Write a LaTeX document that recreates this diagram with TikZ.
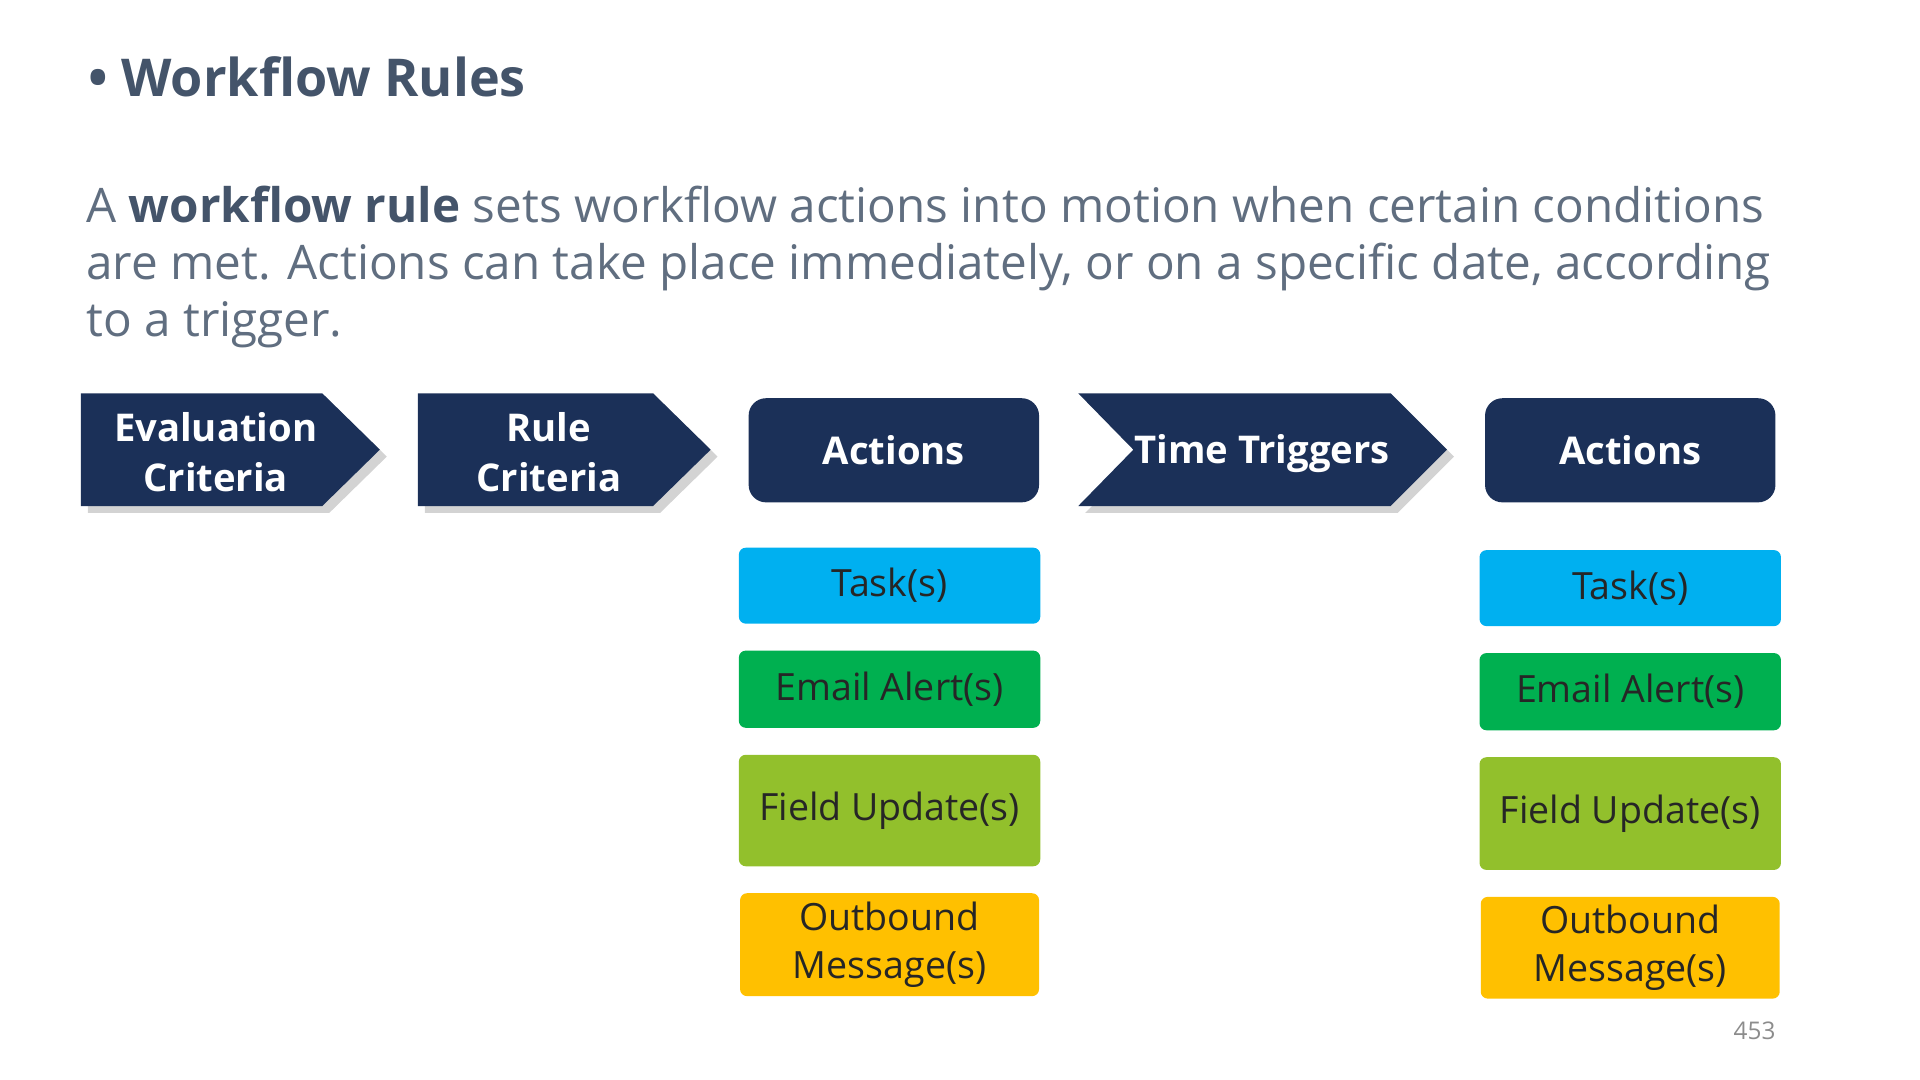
\documentclass[tikz,border=0pt]{standalone}
\usepackage{fontspec}
\setmainfont{Open Sans}
\usetikzlibrary{shadows}
\definecolor{navy}{HTML}{1B3058}
\definecolor{slate}{HTML}{44546A}
\definecolor{taskblue}{HTML}{00B0F0}
\definecolor{mailgreen}{HTML}{00B050}
\definecolor{fieldgreen}{HTML}{92C02C}
\definecolor{outorange}{HTML}{FFC000}
\tikzset{
  chev/.style={fill=navy, drop shadow={shadow xshift=2pt, shadow yshift=-2pt, opacity=0.35}},
  chevtext/.style={text=white, font=\fontsize{11}{14.2}\selectfont\bfseries, align=center},
  head/.style={fill=navy, rounded corners=5pt, text=white, font=\fontsize{11}{14}\selectfont\bfseries,
    minimum width=237*0.012387cm, minimum height=85*0.012387cm, inner sep=0pt},
  item/.style={rounded corners=2pt, text=black!85, font=\fontsize{10.8}{14}\selectfont, align=center,
    minimum width=246*0.012387cm, inner sep=0pt},
}
\begin{document}
\begin{tikzpicture}[x=0.012387cm, y=-0.012387cm]
  \useasboundingbox (0,0) rectangle (1567,881);

  % Title and text
  \node[anchor=west, text=slate, font=\fontsize{15}{18}\selectfont\bfseries] (title) at (62,63) {\textbullet\ Workflow Rules};
  \node[anchor=north west, text=slate!85, align=left, inner sep=0pt,
        font=\fontsize{13.7}{16.4}\selectfont] (intro) at (70,151)
    {A \textbf{\color{slate}workflow rule} sets workflow actions into motion when certain conditions\\
     are met. Actions can take place immediately, or on a specific date, according\\
     to a trigger.};

  % Chevrons
  \fill[chev] (66,321) -- (263,321) -- (310,367) -- (263,413) -- (66,413) -- cycle;
  \node[chevtext] (eval) at (176,369) {Evaluation\\Criteria};
  \fill[chev] (341,321) -- (533,321) -- (580,367) -- (533,413) -- (341,413) -- cycle;
  \node[chevtext] (rule) at (448,369) {Rule\\Criteria};
  \fill[chev] (880,321) -- (1135,321) -- (1181,367) -- (1135,413) -- (880,413) -- (925,367) -- cycle;
  \node[chevtext] (time) at (1030,370) {Time Triggers};

  % Action headers
  \node[head] (act1) at (729.5,367.5) {Actions};
  \node[head] (act2) at (1330.5,367.5) {Actions};

  % First column of actions
  \node[item, fill=taskblue, minimum height=62*0.012387cm] (task1) at (726,478) {Task(s)};
  \node[item, fill=mailgreen, minimum height=63*0.012387cm] (mail1) at (726,562.5) {Email Alert(s)};
  \node[item, fill=fieldgreen, minimum height=91*0.012387cm] (field1) at (726,661.5) {Field Update(s)};
  \node[item, fill=outorange, minimum height=84*0.012387cm, minimum width=244*0.012387cm] (out1) at (726,771) {Outbound\\Message(s)};

  % Second column of actions
  \node[item, fill=taskblue, minimum height=62*0.012387cm] (task2) at (1330.5,480) {Task(s)};
  \node[item, fill=mailgreen, minimum height=63*0.012387cm] (mail2) at (1330.5,564.5) {Email Alert(s)};
  \node[item, fill=fieldgreen, minimum height=92*0.012387cm] (field2) at (1330.5,664) {Field Update(s)};
  \node[item, fill=outorange, minimum height=83*0.012387cm, minimum width=244*0.012387cm] (out2) at (1330.5,773.5) {Outbound\\Message(s)};

  % Page number
  \node[text=black!45, font=\fontsize{7}{8}\selectfont] (page) at (1432,841) {453};
\end{tikzpicture}
\end{document}
